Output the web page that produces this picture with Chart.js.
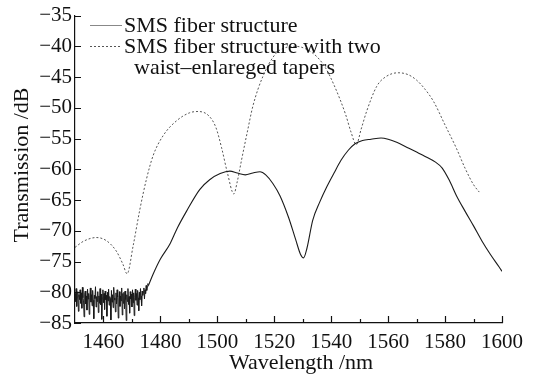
<!DOCTYPE html>
<html>
<head>
<meta charset="utf-8">
<script src="https://cdn.jsdelivr.net/npm/chart.js@4/dist/chart.umd.min.js"></script>
<style>
  html, body { margin: 0; padding: 0; background: #fff; }
  #wrap { width: 537px; height: 377px; }
</style>
</head>
<body>
<div id="wrap"><canvas id="grafico"></canvas></div>
<script>
//noise floor of the plain SMS spectrum (1450 nm onwards, every 0.2 nm)
const ruidoInicio = 1450;
const ruidoPasso = 0.2;
const ruidoSMS = [
  -80.2, -81.5, -79.4, -82.3, -80.8, -79.9, -83.1, -80.4, -81.2, -79.6,
  -81.8, -80.1, -82.6, -79.2, -80.9, -81.4, -84.0, -80.3, -79.8, -81.9,
  -80.6, -82.9, -79.5, -81.1, -80.2, -83.6, -80.8, -79.3, -81.6, -80.4,
  -82.2, -79.7, -81.3, -84.3, -80.5, -81.0, -79.1, -82.4, -80.7, -81.5,
  -79.9, -83.3, -80.6, -81.8, -79.4, -82.0, -80.3, -84.4, -80.9, -79.6,
  -81.7, -80.2, -82.8, -79.8, -81.2, -80.5, -83.9, -80.0, -81.4, -79.5,
  -82.1, -80.7, -81.0, -84.5, -79.7, -81.6, -80.4, -82.5, -79.2, -80.9,
  -81.3, -83.2, -80.1, -81.9, -79.6, -80.8, -84.2, -81.1, -79.9, -82.3,
  -80.6, -81.4, -79.3, -83.7, -80.2, -81.8, -80.0, -82.7, -79.8, -81.2,
  -84.6, -80.4, -81.5, -79.4, -82.0, -80.7, -83.4, -79.9, -81.1, -80.3,
  -82.4, -79.6, -81.7, -80.1, -83.8, -80.8, -79.5, -81.3, -80.2, -82.1,
  -79.7, -80.9, -83.0, -80.0, -81.2, -79.4, -80.6, -82.2, -79.8, -80.5,
  -80.0, -79.3, -81.1, -79.6, -80.2, -78.9, -79.7, -79.1, -78.6, -78.9
];

//smooth part of the plain SMS spectrum
const lambdaSMS = [
  1475.8, 1477.5, 1480, 1483.3, 1486, 1489.2, 1493.8, 1497.3, 1501, 1504.4, 1507,
  1509.8, 1512.5, 1515, 1517, 1519.5, 1522, 1525, 1527.5, 1529.2, 1530.3,
  1531.5, 1533.5, 1536, 1538.5, 1541, 1543.5, 1546, 1548.5, 1551, 1554,
  1557.5, 1560, 1563, 1566.5, 1570, 1573, 1576.5, 1579, 1581.5, 1584,
  1587, 1590, 1593, 1596, 1599, 1600
];
const valorSMS = [
  -78.9, -77.0, -74.6, -72.2, -69.5, -66.8, -63.3, -61.7, -60.7, -60.3, -60.6,
  -60.9, -60.6, -60.4, -60.9, -62.3, -64.3, -67.8, -71.4, -73.8, -74.4,
  -72.8, -68.3, -65.3, -62.8, -60.6, -58.5, -56.9, -55.8, -55.3, -55.1,
  -54.9, -55.1, -55.6, -56.4, -57.2, -57.9, -58.8, -59.8, -61.8, -64.3,
  -66.8, -69.2, -71.7, -73.9, -75.9, -76.6
];

//SMS with two waist-enlarged tapers
const lambdaTaper = [
  1450, 1453, 1457.5, 1461, 1464.5, 1466.8, 1468.3, 1470.4, 1472.8, 1475.1,
  1477.5, 1481, 1485.7, 1490.3, 1493.3, 1497, 1499.5, 1501.5, 1503.5, 1505.8,
  1507, 1508.5, 1510.5, 1512.5, 1516, 1520.5, 1524, 1527.5, 1531, 1535,
  1538, 1541, 1545, 1547, 1548.8, 1550.5, 1552.5, 1556, 1559, 1563.5,
  1567, 1570, 1573, 1576, 1580, 1584, 1587, 1590, 1592
];
const valorTaper = [
  -72.7, -71.7, -71.1, -71.6, -73.3, -75.4, -77.0, -72.5, -66.5, -61.6,
  -57.7, -54.5, -52.1, -50.8, -50.6, -51.3, -53.2, -56.5, -60.5, -64.0,
  -62.0, -58.5, -54.0, -49.7, -44.9, -41.2, -40.2, -40.0, -40.4, -41.7,
  -43.5, -46.3, -51.0, -54.0, -56.0, -53.5, -50.5, -46.5, -45.0, -44.3,
  -44.6, -45.5, -47.0, -49.0, -52.8, -56.6, -59.8, -62.5, -63.7
];

//ticks
const ticksX = [1460, 1480, 1500, 1520, 1540, 1560, 1580, 1600];
const ticksXMenor = [1470, 1490, 1510, 1530, 1550, 1570, 1590];
const ticksY = [-85, -80, -75, -70, -65, -60, -55, -50, -45, -40, -35];

const legendas = ["SMS fiber structure", "SMS fiber structure with two", "waist\u2013enlareged tapers"];
const tituloX = "Wavelength /nm";
const tituloY = "Transmission /dB";

const fonte = '"Liberation Serif", "DejaVu Serif", serif';
const tinta = "#111";

function pontos(xs, ys) {
  return ys.map((y, i) => ({ x: xs[i], y: y }));
}

const pontosRuido = ruidoSMS.map((y, i) => ({ x: ruidoInicio + i * ruidoPasso, y: y }));

//ticks pointing inwards, legend and axis titles
const extras = {
  id: "extras",
  afterDraw(chart) {
    const ctx = chart.ctx;
    const sx = chart.scales.x;
    const sy = chart.scales.y;
    const area = chart.chartArea;
    ctx.save();
    ctx.strokeStyle = tinta;
    ctx.lineWidth = 1.2;
    ctx.beginPath();
    ticksX.forEach((v) => {
      const px = Math.round(sx.getPixelForValue(v)) + 0.5;
      ctx.moveTo(px, area.bottom);
      ctx.lineTo(px, area.bottom - 7);
    });
    ticksXMenor.forEach((v) => {
      const px = Math.round(sx.getPixelForValue(v)) + 0.5;
      ctx.moveTo(px, area.bottom);
      ctx.lineTo(px, area.bottom - 4);
    });
    ticksY.forEach((v) => {
      const py = Math.round(sy.getPixelForValue(v)) + 0.5;
      ctx.moveTo(area.left, py);
      ctx.lineTo(area.left + 6, py);
    });
    ctx.stroke();

    //legend
    ctx.lineWidth = 1;
    ctx.strokeStyle = "#888";
    ctx.beginPath();
    ctx.moveTo(90, 25.5);
    ctx.lineTo(122, 25.5);
    ctx.stroke();
    ctx.strokeStyle = "#555";
    ctx.setLineDash([2, 2]);
    ctx.beginPath();
    ctx.moveTo(90, 46.5);
    ctx.lineTo(122, 46.5);
    ctx.stroke();
    ctx.setLineDash([]);

    ctx.fillStyle = tinta;
    ctx.font = "22px " + fonte;
    ctx.textAlign = "left";
    ctx.textBaseline = "middle";
    ctx.fillText(legendas[0], 124, 26);
    ctx.fillText(legendas[1], 124, 47);
    ctx.fillText(legendas[2], 134, 68);

    //axis titles
    ctx.textAlign = "center";
    ctx.fillText(tituloX, 301, 363);
    ctx.translate(22, 165);
    ctx.rotate(-Math.PI / 2);
    ctx.fillText(tituloY, 0, 0);
    ctx.restore();
  }
};

const ctxGrafico = document.getElementById("grafico").getContext("2d");

const grafico = new Chart(ctxGrafico, {
  type: "line",
  data: {
    datasets: [
      {
        label: legendas[0],
        data: pontosRuido,
        borderColor: "#1a1a1a",
        borderWidth: 1,
        pointRadius: 0,
        tension: 0,
      },
      {
        label: legendas[0],
        data: pontos(lambdaSMS, valorSMS),
        borderColor: "#1a1a1a",
        borderWidth: 1.1,
        pointRadius: 0,
        cubicInterpolationMode: "monotone",
      },
      {
        label: legendas[1],
        data: pontos(lambdaTaper, valorTaper),
        borderColor: "#555",
        borderWidth: 1,
        borderDash: [2, 2],
        pointRadius: 0,
        cubicInterpolationMode: "monotone",
      },
    ],
  },
  options: {
    responsive: true,
    maintainAspectRatio: false,
    animation: false,
    layout: { padding: { left: 0, top: 12, right: 35, bottom: 0 } },
    plugins: {
      legend: { display: false },
      tooltip: { enabled: false },
    },
    scales: {
      x: {
        type: "linear",
        min: 1450,
        max: 1600,
        afterFit: (s) => { s.height = 54; },
        afterBuildTicks: (s) => { s.ticks = ticksX.map((v) => ({ value: v })); },
        grid: { display: false, drawTicks: false },
        border: { display: true, color: tinta, width: 1.2 },
        ticks: {
          color: tinta,
          padding: 7,
          maxRotation: 0,
          font: { family: fonte, size: 21 },
          callback: (v) => String(v),
        },
      },
      y: {
        min: -85,
        max: -35,
        afterFit: (s) => { s.width = 75; },
        afterBuildTicks: (s) => { s.ticks = ticksY.map((v) => ({ value: v })); },
        grid: { display: false, drawTicks: false },
        border: { display: true, color: tinta, width: 1.2 },
        ticks: {
          color: tinta,
          padding: 3,
          font: { family: fonte, size: 21 },
          callback: (v) => String(v).replace("-", "\u2212"),
        },
      },
    },
  },
  plugins: [extras],
});
</script>
</body>
</html>
